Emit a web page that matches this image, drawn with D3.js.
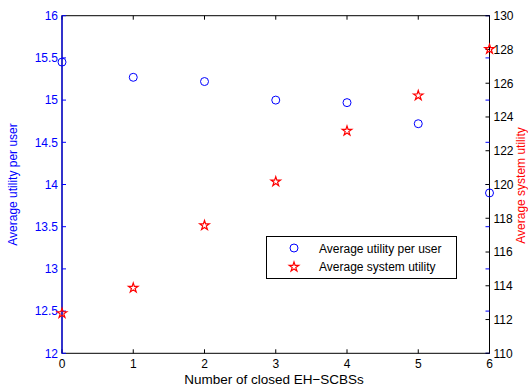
<!DOCTYPE html>
<html>
<head>
<meta charset="utf-8">
<script src="https://cdn.jsdelivr.net/npm/d3@7"></script>
<style>
  body { margin: 0; background: #fff; }
  svg { display: block; font-family: "Liberation Sans", Arial, sans-serif; }
</style>
</head>
<body>
<svg id="chart" width="528" height="388"></svg>
<script>
// ── Data ──────────────────────────────────────────────────────────
const closedBS     = [0, 1, 2, 3, 4, 5, 6];
const perUserUtil  = [15.45, 15.27, 15.22, 15.0, 14.97, 14.72, 13.90];
const systemUtil   = [112.4, 113.9, 117.6, 120.2, 123.2, 125.3, 128.05];

const xTicks      = [0, 1, 2, 3, 4, 5, 6];
const leftTicks   = [12, 12.5, 13, 13.5, 14, 14.5, 15, 15.5, 16];
const rightTicks  = [110, 112, 114, 116, 118, 120, 122, 124, 126, 128, 130];

const LEFT_LABEL  = "Average utility per user";
const RIGHT_LABEL = "Average system utility";
const X_LABEL     = "Number of closed EH\u2212SCBSs";

const BLUE = "#0000ff";
const RED  = "#ff0000";

// ── Layout ────────────────────────────────────────────────────────
const M = { left: 62, right: 489.5, top: 15.7, bottom: 353.3 };
const TICK = 4;

const svg = d3.select("#chart");

const x  = d3.scaleLinear().domain([0, 6]).range([M.left, M.right]);
const yL = d3.scaleLinear().domain([12, 16]).range([M.bottom, M.top]);
const yR = d3.scaleLinear().domain([110, 130]).range([M.bottom, M.top]);

// box
svg.append("rect")
  .attr("x", M.left).attr("y", M.top)
  .attr("width", M.right - M.left).attr("height", M.bottom - M.top)
  .attr("fill", "none").attr("stroke", "#000").attr("stroke-width", 1);

// x ticks (bottom up, top down)
const xt = svg.append("g");
xTicks.forEach(t => {
  xt.append("line").attr("x1", x(t)).attr("x2", x(t))
    .attr("y1", M.bottom).attr("y2", M.bottom - TICK).attr("stroke", "#000");
  xt.append("line").attr("x1", x(t)).attr("x2", x(t))
    .attr("y1", M.top).attr("y2", M.top + TICK).attr("stroke", "#000");
  xt.append("text").attr("x", x(t)).attr("y", M.bottom + 15)
    .attr("text-anchor", "middle").attr("font-size", 12).attr("fill", "#000")
    .text(t);
});

// left axis (blue) ticks on both sides
const la = svg.append("g");
leftTicks.forEach(t => {
  la.append("line").attr("x1", M.left).attr("x2", M.left + TICK)
    .attr("y1", yL(t)).attr("y2", yL(t)).attr("stroke", BLUE);
  la.append("line").attr("x1", M.right).attr("x2", M.right - TICK)
    .attr("y1", yL(t)).attr("y2", yL(t)).attr("stroke", BLUE);
  la.append("text").attr("x", M.left - 4).attr("y", yL(t) + 4.3)
    .attr("text-anchor", "end").attr("font-size", 12).attr("fill", BLUE)
    .text(t);
});
la.append("line").attr("x1", M.left).attr("x2", M.left)
  .attr("y1", M.top).attr("y2", M.bottom).attr("stroke", BLUE).attr("stroke-width", 1.2);

// right axis (black) ticks
const ra = svg.append("g");
rightTicks.forEach(t => {
  ra.append("line").attr("x1", M.right).attr("x2", M.right - TICK)
    .attr("y1", yR(t)).attr("y2", yR(t)).attr("stroke", "#000");
  ra.append("text").attr("x", M.right + 4).attr("y", yR(t) + 4.3)
    .attr("text-anchor", "start").attr("font-size", 12).attr("fill", "#000")
    .text(t);
});

// axis labels
svg.append("text")
  .attr("transform", `translate(17,${(M.top + M.bottom) / 2}) rotate(-90)`)
  .attr("text-anchor", "middle").attr("font-size", 12).attr("fill", BLUE)
  .text(LEFT_LABEL);
svg.append("text")
  .attr("transform", `translate(525,${(M.top + M.bottom) / 2 + 1}) rotate(-90)`)
  .attr("text-anchor", "middle").attr("font-size", 12).attr("fill", RED)
  .text(RIGHT_LABEL);
svg.append("text")
  .attr("x", 274).attr("y", 383.5)
  .attr("text-anchor", "middle").attr("font-size", 13.5).attr("fill", "#000")
  .text(X_LABEL);

// ── Markers ───────────────────────────────────────────────────────
const star = d3.symbol().type(d3.symbolStar).size(28);

svg.append("g").selectAll("circle")
  .data(closedBS)
  .join("circle")
    .attr("cx", (d) => x(d))
    .attr("cy", (d, i) => yL(perUserUtil[i]))
    .attr("r", 4)
    .attr("fill", "none").attr("stroke", BLUE).attr("stroke-width", 1);

svg.append("g").selectAll("path")
  .data(closedBS)
  .join("path")
    .attr("d", star)
    .attr("transform", (d, i) => `translate(${x(d)},${yR(systemUtil[i]) + 0.5})`)
    .attr("fill", "none").attr("stroke", RED).attr("stroke-width", 1.2);

// ── Legend ────────────────────────────────────────────────────────
const lg = svg.append("g");
lg.append("rect")
  .attr("x", 266.5).attr("y", 236.5).attr("width", 190).attr("height", 42)
  .attr("fill", "#fff").attr("stroke", "#000").attr("stroke-width", 1);
lg.append("circle").attr("cx", 294).attr("cy", 248).attr("r", 4)
  .attr("fill", "none").attr("stroke", BLUE);
lg.append("path").attr("d", star).attr("transform", "translate(294,267)")
  .attr("fill", "none").attr("stroke", RED).attr("stroke-width", 1.2);
lg.append("text").attr("x", 319).attr("y", 252.5).attr("font-size", 12).text(LEFT_LABEL);
lg.append("text").attr("x", 319).attr("y", 271).attr("font-size", 12).text(RIGHT_LABEL);
</script>
</body>
</html>
